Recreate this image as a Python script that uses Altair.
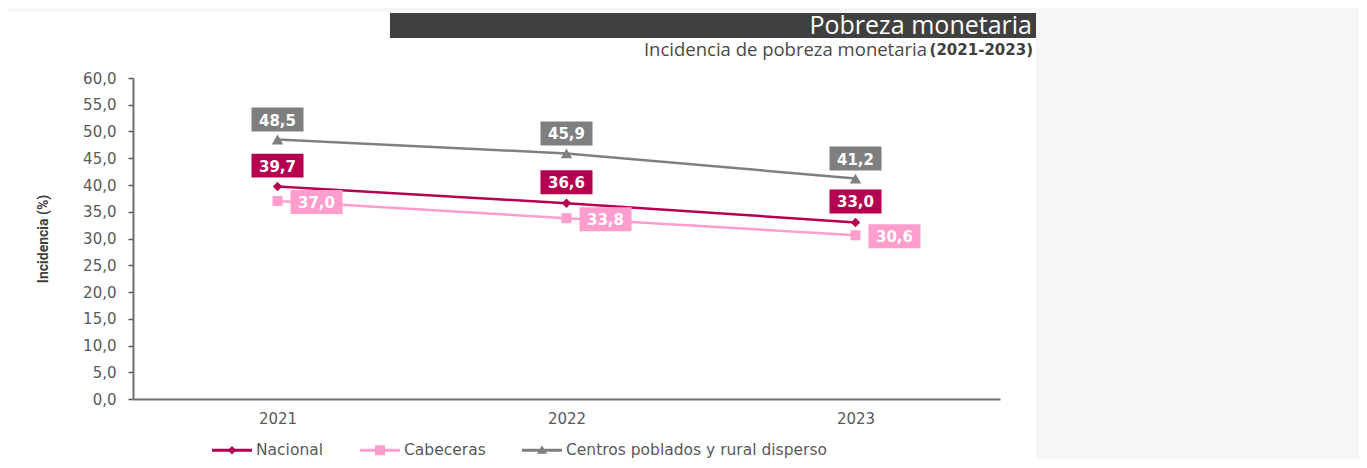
import altair as alt
import pandas as pd

years = ["2021", "2022", "2023"]
series = ["Nacional", "Cabeceras", "Centros poblados y rural disperso"]
nacional = [39.7, 36.6, 33.0]
cabeceras = [37.0, 33.8, 30.6]
centros = [48.5, 45.9, 41.2]
colors = ["#b4004e", "#ff9dcd", "#7f7f7f"]

rows = []
for name, vals in zip(series, [nacional, cabeceras, centros]):
    for y, v in zip(years, vals):
        rows.append({"year": y, "serie": name, "value": v})
df = pd.DataFrame(rows)
one = alt.InlineData(values=[{"k": 1}])

FONT = "DejaVu Sans"
LABEL_FMT = "replace(format(datum.value, '.1f'), '.', ',')"

base = alt.Chart(df)
x_enc = alt.X("year:O", title=None,
              axis=alt.Axis(labelAngle=0, ticks=False, labelPadding=12, zindex=1,
                            labelFont=FONT, labelFontSize=15, labelColor="#595959",
                            domainColor="#6e6e6e", domainWidth=2))
y_enc = alt.Y("value:Q", scale=alt.Scale(domain=[0, 60], nice=False),
              axis=alt.Axis(values=list(range(0, 61, 5)), labelExpr=LABEL_FMT, zindex=1,
                            labelOverlap=False, tickCount=20,
                            grid=False, tickSize=5, tickColor="#595959", tickWidth=1.5,
                            domainColor="#6e6e6e", domainWidth=2,
                            labelFont=FONT, labelFontSize=15, labelColor="#595959",
                            labelPadding=12,
                            title="Incidencia (%)", titleFont="Roboto",
                            titleFontSize=14, titleFontWeight="bold", titleColor="#404040",
                            titlePadding=32))
color_scale = alt.Scale(domain=series, range=colors)

# decorations: white panel, header bar, titles
panel = alt.Chart(one).mark_rect(color="white").encode(
    x=alt.value(-125), x2=alt.value(903), y=alt.value(-66), y2=alt.value(390))
header = alt.Chart(one).mark_rect(color="#404040").encode(
    x=alt.value(257), x2=alt.value(903), y=alt.value(-65), y2=alt.value(-40))
title = alt.Chart(one).mark_text(text="Pobreza monetaria", font="Open Sans", fontSize=25,
                                 color="white", align="right",
                                 baseline="middle").encode(
    x=alt.value(899), y=alt.value(-52))
sub_bold = alt.Chart(one).mark_text(text="(2021-2023)", font=FONT, fontSize=15,
                                    fontWeight="bold", color="#404040", align="right",
                                    baseline="middle").encode(
    x=alt.value(900), y=alt.value(-28))
sub_norm = alt.Chart(one).mark_text(text="Incidencia de pobreza monetaria", font="Open Sans",
                                    fontSize=18.5, color="#4a4a4a", align="right",
                                    baseline="middle").encode(
    x=alt.value(794), y=alt.value(-28))

line_layers = [base.transform_filter(alt.datum.serie == s)
               .mark_line(strokeWidth=2.5, color=c).encode(x=x_enc, y=y_enc)
               for s, c in zip(series, colors)]

leg_shapes = [
    "M-1,-0.07L1,-0.07L1,0.07L-1,0.07Z M0,-0.21L0.21,0L0,0.21L-0.21,0Z",
    "M-1,-0.07L1,-0.07L1,0.07L-1,0.07Z M-0.25,-0.25L0.25,-0.25L0.25,0.25L-0.25,0.25Z",
    "M-1,-0.07L1,-0.07L1,0.07L-1,0.07Z M0,-0.24L0.26,0.17L-0.26,0.17Z",
]
legend_layer = base.transform_filter(alt.datum.value < -1).mark_point(
    filled=True, opacity=1).encode(
    x=x_enc, y=y_enc,
    color=alt.Color("serie:N", scale=color_scale,
                    legend=alt.Legend(title=None, orient="none", direction="horizontal",
                                      legendX=79, legendY=352, padding=0, zindex=1,
                                      symbolSize=1600, symbolOpacity=1,
                                      symbolStrokeWidth=0, labelFont=FONT,
                                      labelFontSize=15.5, labelColor="#595959",
                                      labelLimit=500,
                                      labelOffset=4, columnPadding=36)),
    shape=alt.Shape("serie:N", scale=alt.Scale(domain=series, range=leg_shapes)))

marker_specs = [("Nacional", "diamond", 90, colors[0]),
                ("Cabeceras", "square", 100, colors[1]),
                ("Centros poblados y rural disperso", "triangle-up", 130, colors[2])]
markers = [base.transform_filter(alt.datum.serie == s)
           .mark_point(shape=sh, size=sz, filled=True, opacity=1, color=c)
           .encode(x=x_enc, y=y_enc)
           for s, sh, sz, c in marker_specs]

box_path = "M-1,-0.46L1,-0.46L1,0.46L-1,0.46Z"
label_specs = [("Centros poblados y rural disperso", 0, -20, colors[2]),
               ("Nacional", 0, -21, colors[0]),
               ("Cabeceras", 39, 1, colors[1])]
labels = []
for s, dx, dy, c in label_specs:
    b = base.transform_filter(alt.datum.serie == s)
    labels.append(b.mark_point(shape=box_path, size=2704, filled=True, opacity=1,
                               color=c, strokeWidth=0, xOffset=dx, yOffset=dy)
                  .encode(x=x_enc, y=y_enc))
    labels.append(b.transform_calculate(lbl=LABEL_FMT)
                  .mark_text(font=FONT, fontSize=15, fontWeight="bold", color="white",
                             align="center", baseline="middle", dx=dx, dy=dy + 1)
                  .encode(x=x_enc, y=y_enc, text="lbl:N"))

chart = alt.layer(panel, header, title, sub_bold, sub_norm, *line_layers, legend_layer,
                  *markers, *labels).properties(
    width=867, height=321,
    padding={"left": 125, "top": 70, "right": 359, "bottom": 60},
    autosize="none", background="#f6f6f6"
).configure_view(stroke=None).configure_axis(labelOverlap=False)

chart.save("out.html", embed_options={"renderer": "svg", "actions": False})
